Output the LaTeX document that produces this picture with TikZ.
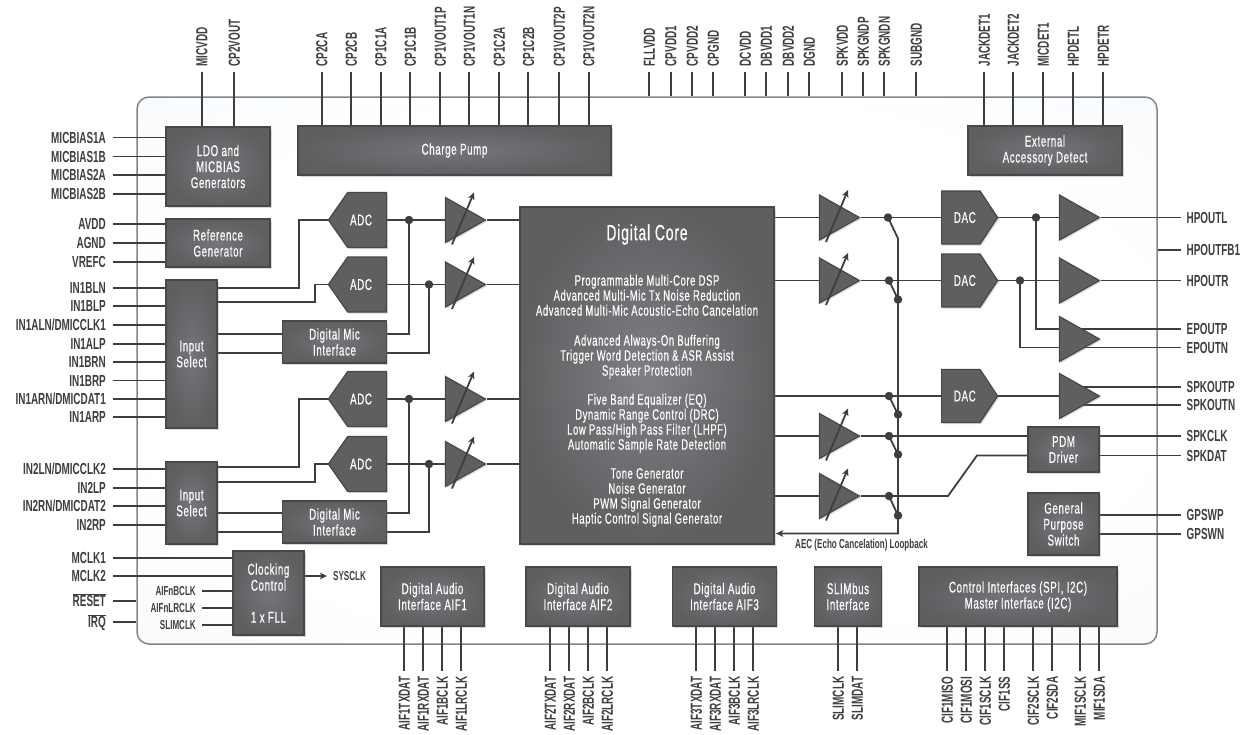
\documentclass[tikz,border=0pt]{standalone}
\usepackage{fontspec}
\setmainfont{Liberation Sans}[FakeStretch=0.63,LetterSpace=4,FakeBold=0.4]
\newfontfamily\pinfont{Liberation Sans}[FakeStretch=0.62]
\usetikzlibrary{arrows.meta,positioning,shadows,shapes.geometric,shapes.symbols}
\definecolor{wirecol}{HTML}{3D3E40}
\definecolor{edgecol}{HTML}{47484A}
\definecolor{blockin}{HTML}{757679}
\definecolor{blockout}{HTML}{5E5F61}
\definecolor{corein}{HTML}{7F8083}
\definecolor{panelblue}{HTML}{E7EDF6}
\definecolor{paneledge}{HTML}{7F868C}
\pgfdeclarelayer{panel}
\pgfdeclarelayer{wires}
\pgfsetlayers{panel,wires,main}
\pgfdeclareradialshading{panelglow}{\pgfpoint{0bp}{0bp}}{color(0bp)=(white); color(25bp)=(white); color(70bp)=(panelblue)}
\begin{document}
\begin{tikzpicture}[x=1pt,y=-1pt,>={Stealth[length=7pt,width=6.5pt,inset=1.5pt]},
	wire/.style={draw=wirecol,line width=1.8pt},
	textdown/.style={execute at begin node={\vspace*{#1}}},
	block/.style={rectangle,draw=edgecol,line width=1.2pt,inner sep=0pt,text=white,align=center,
		font=\fontsize{15.5}{16}\selectfont,shading=radial,inner color=blockin,outer color=blockout,
		textdown=6pt,drop shadow={shadow xshift=1.5pt,shadow yshift=-1.5pt,opacity=.3}},
	sharp/.style={draw=edgecol,line width=1.2pt,fill=blockout,inner sep=0pt,text=white,
		font=\fontsize{15.5}{16}\selectfont,drop shadow={shadow xshift=1.5pt,shadow yshift=-1.5pt,opacity=.3}},
	adc/.style={sharp,signal,signal to=west,signal pointer angle=110,minimum width=58pt,minimum height=55pt,anchor=east},
	dac/.style={sharp,signal,signal to=east,signal pointer angle=113,minimum width=56pt,minimum height=53pt,anchor=west},
	amp/.style={sharp,isosceles triangle,isosceles triangle stretches,minimum width=45pt,minimum height=40pt,anchor=apex},
	dot/.style={circle,fill=wirecol,inner sep=0pt,minimum size=8.5pt},
	pinfnt/.style={text=wirecol,inner ysep=0pt,text height=11.5pt,text depth=0pt,font=\pinfont\bfseries\fontsize{16}{17}\selectfont},
	pinleft/.style={pinfnt,anchor=east,inner xsep=6.5pt},
	pinright/.style={pinfnt,anchor=west,inner xsep=6pt},
	pintop/.style={pinfnt,rotate=90,anchor=west,inner xsep=5pt},
	pinbot/.style={pinfnt,rotate=90,anchor=east,inner xsep=6pt},
	smalltxt/.style={text=wirecol,inner ysep=0pt,font=\pinfont\bfseries\fontsize{13}{14}\selectfont},
	pinsmall/.style={smalltxt,anchor=east,inner xsep=6pt}]
	\useasboundingbox (0,0) rectangle (1244,734);
	\begin{pgfonlayer}{panel}
		\node[draw=paneledge,line width=1.5pt,rounded corners=12pt,shading=panelglow,minimum width=1020pt,minimum height=547pt,inner sep=0pt] (chip) at (647,370.5) {};
	\end{pgfonlayer}

	\node[block,minimum width=104pt,minimum height=79pt] (ldo) at (218,166.5) {LDO and\\MICBIAS\\Generators};
	\node[block,textdown=9pt,minimum width=313pt,minimum height=49pt] (chg) at (454.5,150.5) {Charge Pump};
	\node[block,textdown=9pt,minimum width=154pt,minimum height=49pt] (ext) at (1045,150.5) {External\\Accessory Detect};
	\node[block,minimum width=104pt,minimum height=48pt] (refgen) at (218,243) {Reference\\Generator};
	\node[block,minimum width=51pt,minimum height=148pt] (sela) at (191.5,354) {Input\\Select};
	\node[block,minimum width=51pt,minimum height=82pt] (selb) at (191.5,503) {Input\\Select};
	\node[block,minimum width=104pt,minimum height=42pt] (mica) at (334.5,342) {Digital Mic\\Interface};
	\node[block,minimum width=104pt,minimum height=42pt] (micb) at (334.5,522) {Digital Mic\\Interface};
	\node[block,minimum width=71pt,minimum height=84pt] (clk) at (268.5,593) {Clocking\\Control\\[16pt]1 x FLL};
	\node[block,minimum width=103pt,minimum height=59pt] (aifa) at (432.5,596.5) {Digital Audio\\Interface AIF1};
	\node[block,minimum width=104pt,minimum height=59pt] (aifb) at (578,596.5) {Digital Audio\\Interface AIF2};
	\node[block,minimum width=104pt,minimum height=59pt] (aifc) at (724.5,596.5) {Digital Audio\\Interface AIF3};
	\node[block,minimum width=67pt,minimum height=59pt] (slim) at (848,596.5) {SLIMbus\\Interface};
	\node[block,minimum width=198pt,minimum height=59pt] (ctrl) at (1018,596.5) {Control Interfaces (SPI, I2C)\\Master Interface (I2C)};
	\node[block,minimum width=71pt,minimum height=45pt] (pdm) at (1063.5,449.5) {PDM\\Driver};
	\node[block,minimum width=71pt,minimum height=62pt] (gpsw) at (1063.5,524) {General\\Purpose\\Switch};
	\node[block,textdown=10pt,inner color=corein,minimum width=254pt,minimum height=337pt,font=\fontsize{15}{15}\selectfont] (core) at (647,375.5) {{\fontsize{22}{24}\selectfont Digital Core}\\[29pt]
		Programmable Multi-Core DSP\\Advanced Multi-Mic Tx Noise Reduction\\Advanced Multi-Mic Acoustic-Echo Cancelation\\[15pt]
		Advanced Always-On Buffering\\Trigger Word Detection \& ASR Assist\\Speaker Protection\\[14pt]
		Five Band Equalizer (EQ)\\Dynamic Range Control (DRC)\\Low Pass/High Pass Filter (LHPF)\\Automatic Sample Rate Detection\\[14pt]
		Tone Generator\\Noise Generator\\PWM Signal Generator\\Haptic Control Signal Generator};

	\node[adc] (adca) at (387,220) {\kern-6pt ADC\kern6pt};
	\node[adc] (adcb) at (387,284.5) {\kern-6pt ADC\kern6pt};
	\node[adc] (adcc) at (387,399) {\kern-6pt ADC\kern6pt};
	\node[adc] (adcd) at (387,464) {\kern-6pt ADC\kern6pt};
	\node[dac] (daca) at (941,217.5) {\kern4pt DAC\kern-4pt};
	\node[dac] (dacb) at (941,280.5) {\kern4pt DAC\kern-4pt};
	\node[dac] (dacc) at (941,396) {\kern4pt DAC\kern-4pt};

	\node[amp] (ampa) at (487,220) {};
	\node[amp] (ampb) at (487,284.5) {};
	\node[amp] (ampc) at (487,399) {};
	\node[amp] (ampd) at (487,464) {};
	\node[amp] (ampe) at (861,217.5) {};
	\node[amp] (ampf) at (861,280.5) {};
	\node[amp] (ampg) at (861,436) {};
	\node[amp] (amph) at (861,496) {};
	\node[amp] (hpl) at (1101,217.5) {};
	\node[amp] (hpr) at (1101,280.5) {};
	\node[amp] (ep) at (1101,339) {};
	\node[amp] (spk) at (1101,396) {};

	\node[dot] (ja) at (409,220) {};
	\node[dot] (jb) at (429,284.5) {};
	\node[dot] (jc) at (409,399) {};
	\node[dot] (jd) at (429,464) {};
	\node[dot] (se) at (888,217.5) {};
	\node[dot] (sf) at (889,280.5) {};
	\node[dot] (sc) at (889,396) {};
	\node[dot] (sg) at (889,436) {};
	\node[dot] (sh) at (889,496) {};
	\node[dot] (lf) at (898,299.5) {};
	\node[dot] (lc) at (898,414.5) {};
	\node[dot] (lg) at (898,454.5) {};
	\node[dot] (lh) at (898,515.5) {};
	\node[dot] (jl) at (1036,217.5) {};
	\node[dot] (jr) at (1020,280.5) {};

	\node[smalltxt,inner xsep=6pt,anchor=west] (sysclk) at (327,576) {SYSCLK};
	\node[smalltxt,inner xsep=0pt] (aec) at (861.5,545.5) {AEC (Echo Cancelation) Loopback};
	\coordinate (epin) at (1061,329);
	\coordinate (enin) at (1061,347.5);
	\coordinate (bend) at (898,238.5);
	\coordinate (slope) at (948,496);
	\coordinate (rise) at (977,455.5);

	\foreach \y/\n/\t/\b in {137.5/micbiasa/MICBIAS1A/ldo.west,156.5/micbiasb/MICBIAS1B/ldo.west,175/micbiasc/MICBIAS2A/ldo.west,194/micbiasd/MICBIAS2B/ldo.west,
		224/avdd/AVDD/refgen.west,243/agnd/AGND/refgen.west,262/vrefc/VREFC/refgen.west,
		287.7/inbln/IN1BLN/sela.west,306/inblp/IN1BLP/sela.west,325/inaln/{IN1ALN/DMICCLK1}/sela.west,344/inalp/IN1ALP/sela.west,
		362/inbrn/IN1BRN/sela.west,380.5/inbrp/IN1BRP/sela.west,399/inarn/{IN1ARN/DMICDAT1}/sela.west,417/inarp/IN1ARP/sela.west,
		469/inln/{IN2LN/DMICCLK2}/selb.west,488/inlp/IN2LP/selb.west,506/inrn/{IN2RN/DMICDAT2}/selb.west,525/inrp/IN2RP/selb.west,
		558/mclka/MCLK1/clk.west,576/mclkb/MCLK2/clk.west,601/reset/{$\overline{\hbox{RESET}}$}/chip.west,622/irq/{$\overline{\hbox{IRQ}}$}/chip.west} {
		\node[pinleft] (\n) at (112.5,\y) {\t};
		\begin{pgfonlayer}{wires}
			\draw[wire] (\n.east) -- (\n.east -| \b);
		\end{pgfonlayer}
	}
	\foreach \y/\n/\t/\b in {217.5/hpoutl/HPOUTL/hpl.apex,250/hpoutfb/HPOUTFB1/chip.east,280.5/hpoutr/HPOUTR/hpr.apex,329/epoutp/EPOUTP/ep.center,347.5/epoutn/EPOUTN/ep.center,
		386.7/spkoutp/SPKOUTP/spk.center,404.7/spkoutn/SPKOUTN/spk.center,436/spkclk/SPKCLK/pdm.east,455.5/spkdat/SPKDAT/pdm.east,515/gpswp/GPSWP/gpsw.east,534/gpswn/GPSWN/gpsw.east} {
		\node[pinright] (\n) at (1180.5,\y) {\t};
		\begin{pgfonlayer}{wires}
			\draw[wire] (\n.west) -- (\n.west -| \b);
		\end{pgfonlayer}
	}
	\foreach \x/\t/\b in {201.7/MICVDD/ldo.north,234/CP2VOUT/ldo.north,
		321.7/CP2CA/chg.north,351/CP2CB/chg.north,380.7/CP1C1A/chg.north,410/CP1C1B/chg.north,440/CP1VOUT1P/chg.north,469/CP1VOUT1N/chg.north,
		499/CP1C2A/chg.north,528.3/CP1C2B/chg.north,559/CP1VOUT2P/chg.north,588.7/CP1VOUT2N/chg.north,
		649/FLLVDD/chip.north,670.7/CPVDD1/chip.north,692/CPVDD2/chip.north,713/CPGND/chip.north,745/DCVDD/chip.north,766/DBVDD1/chip.north,788/DBVDD2/chip.north,809/DGND/chip.north,
		842/SPKVDD/chip.north,863/SPKGNDP/chip.north,884/SPKGNDN/chip.north,916/SUBGND/chip.north,
		984/JACKDET1/ext.north,1013/JACKDET2/ext.north,1043/MICDET1/ext.north,1073/HPDETL/ext.north,1103/HPDETR/ext.north} {
		\node[pintop] (\t) at (\x,71.5) {\t};
		\begin{pgfonlayer}{wires}
			\draw[wire] (\t.west) -- (\t.west |- \b);
		\end{pgfonlayer}
	}
	\foreach \x/\t/\b in {404/AIF1TXDAT/aifa.south,423/AIF1RXDAT/aifa.south,442/AIF1BCLK/aifa.south,461/AIF1LRCLK/aifa.south,
		550/AIF2TXDAT/aifb.south,569/AIF2RXDAT/aifb.south,588/AIF2BCLK/aifb.south,607/AIF2LRCLK/aifb.south,
		696/AIF3TXDAT/aifc.south,715/AIF3RXDAT/aifc.south,734/AIF3BCLK/aifc.south,753/AIF3LRCLK/aifc.south,
		838/SLIMCLK/slim.south,857/SLIMDAT/slim.south,
		947/CIF1MISO/ctrl.south,966/CIF1MOSI/ctrl.south,985/CIF1SCLK/ctrl.south,1004/CIF1SS/ctrl.south,1033/CIF2SCLK/ctrl.south,1052/CIF2SDA/ctrl.south,1080/MIF1SCLK/ctrl.south,1099/MIF1SDA/ctrl.south} {
		\node[pinbot] (\t) at (\x,670.5) {\t};
		\begin{pgfonlayer}{wires}
			\draw[wire] (\t.east) -- (\t.east |- \b);
		\end{pgfonlayer}
	}
	\foreach \y/\n/\t in {591/clkb/AIFnBCLK,608/clkl/AIFnLRCLK,625/clks/SLIMCLK} {
		\node[pinsmall] (\n) at (202,\y) {\t};
		\begin{pgfonlayer}{wires}
			\draw[wire] (\n.east) -- (\n.east -| clk.west);
		\end{pgfonlayer}
	}
	\foreach \n in {ampa,ampb,ampc,ampd,ampe,ampf,ampg,amph}
		\draw[wire,->] ([shift={(-35,24.5)}]\n.apex) -- ([shift={(-13,-27.5)}]\n.apex);

	\begin{pgfonlayer}{wires}
		\path[wire]
		(adca.east)	edge (ampa.lower side)
		(adcb.east)	edge (ampb.lower side)
		(adcc.east)	edge (ampc.lower side)
		(adcd.east)	edge (ampd.lower side)
		(ampa.apex)	edge (ampa.apex -| core.west)
		(ampb.apex)	edge (ampb.apex -| core.west)
		(ampc.apex)	edge (ampc.apex -| core.west)
		(ampd.apex)	edge (ampd.apex -| core.west)
		(ampe.lower side -| core.east)	edge (ampe.lower side)
		(ampf.lower side -| core.east)	edge (ampf.lower side)
		(ampg.lower side -| core.east)	edge (ampg.lower side)
		(amph.lower side -| core.east)	edge (amph.lower side)
		(dacc.west -| core.east)	edge (dacc.west)
		(ampe.apex)	edge (daca.west)
		(ampf.apex)	edge (dacb.west)
		(ampg.apex)	edge (ampg.apex -| pdm.west)
		(daca.east)	edge (hpl.lower side)
		(dacb.east)	edge (hpr.lower side)
		(dacc.east)	edge (spk.lower side)
		(sf.center)	edge (lf.center)
		(sc.center)	edge (lc.center)
		(sg.center)	edge (lg.center)
		(sh.center)	edge (lh.center)
		;
		\draw[wire] (sela.east |- 0,287.7) -- (299,287.7) |- (adca.west);
		\draw[wire] (sela.east |- 0,302.3) -- (315,302.3) |- (adcb.west);
		\draw[wire] (selb.east |- 0,467) -- (299,467) |- (adcc.west);
		\draw[wire] (selb.east |- 0,482) -- (315,482) |- (adcd.west);
		\draw[wire] (sela.east |- 0,334) -- (mica.west |- 0,334);
		\draw[wire] (sela.east |- 0,352.7) -- (mica.west |- 0,352.7);
		\draw[wire] (selb.east |- 0,513) -- (micb.west |- 0,513);
		\draw[wire] (selb.east |- 0,532) -- (micb.west |- 0,532);
		\draw[wire] (mica.east |- 0,334) -| (ja.center);
		\draw[wire] (mica.east |- 0,352.7) -| (jb.center);
		\draw[wire] (micb.east |- 0,513) -| (jc.center);
		\draw[wire] (micb.east |- 0,532) -| (jd.center);
		\draw[wire] (amph.apex) -- (slope) -- (rise) -- (rise -| pdm.west);
		\draw[wire] (jl.center) |- (epin);
		\draw[wire] (jr.center) |- (enin);
		\draw[wire,->,shorten >=1.5pt] (se.center) -- (bend) -- (898,533.5) -- (core.east |- 0,533.5);
		\draw[wire,->] (clk.east |- sysclk.west) -- (sysclk.west);
	\end{pgfonlayer}
\end{tikzpicture}
\end{document}
